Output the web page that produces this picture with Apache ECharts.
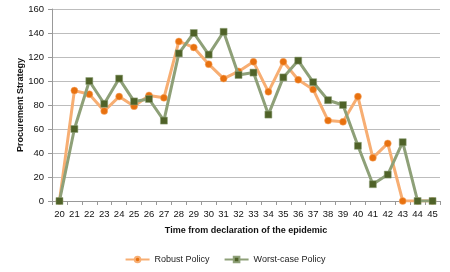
<!DOCTYPE html>
<html><head><meta charset="utf-8">
<script src="https://cdn.jsdelivr.net/npm/echarts@6/dist/echarts.min.js"></script>
<style>html,body{margin:0;padding:0;background:#fff}#c{width:450px;height:272px}</style>
</head><body><div id="c"></div>
<script>
const categories = ['20','21','22','23','24','25','26','27','28','29','30','31','32','33','34','35','36','37','38','39','40','41','42','43','44','45'];
const robustPolicy = [0, 92, 89, 75, 87, 79, 88, 86, 133, 128, 114, 102, 108, 116, 91, 116, 101, 93, 67, 66, 87, 36, 48, 0, 0, 0];
const worstCasePolicy = [0, 60, 100, 81, 102, 83, 85, 67, 123, 140, 122, 141, 105, 107, 72, 103, 117, 99, 84, 80, 46, 14, 22, 49, 0, 0];
const yTicks = {min: 0, max: 160, interval: 20};

const chart = echarts.init(document.getElementById('c'), null, {renderer: 'canvas'});
const font = 'Liberation Sans, Arial, sans-serif';
chart.setOption({
  animation: false,
  grid: {left: 52, right: 10, top: 9, bottom: 71, containLabel: false},
  legend: {
    bottom: 3, left: 'center', itemGap: 14, itemWidth: 24, itemHeight: 7,
    textStyle: {fontFamily: font, fontSize: 9, color: '#222'},
    data: ['Robust Policy', 'Worst-case Policy']
  },
  xAxis: {
    type: 'category', data: categories, boundaryGap: true,
    name: 'Time from declaration of the epidemic', nameLocation: 'middle', nameGap: 25,
    nameMoveOverlap: false,
    nameTextStyle: {fontFamily: font, fontSize: 9, fontWeight: 'bold', color: '#111'},
    axisLine: {lineStyle: {color: '#999', width: 1}},
    axisTick: {show: true, interval: 0, alignWithLabel: false, length: 4, lineStyle: {color: '#999'}},
    axisLabel: {interval: 0, fontFamily: font, fontSize: 9.5, color: '#111', margin: 8},
    splitLine: {show: false}
  },
  yAxis: {
    type: 'value', min: yTicks.min, max: yTicks.max, interval: yTicks.interval,
    name: 'Procurement Strategy', nameLocation: 'middle', nameGap: 27, nameRotate: 90,
    nameMoveOverlap: false,
    nameTextStyle: {fontFamily: font, fontSize: 9, fontWeight: 'bold', color: '#111'},
    axisLine: {show: true, lineStyle: {color: '#999', width: 1}},
    axisTick: {show: true, length: 4, lineStyle: {color: '#999'}},
    axisLabel: {fontFamily: font, fontSize: 9.5, color: '#111', margin: 8},
    splitLine: {show: true, lineStyle: {color: '#BDBDBD', width: 1}}
  },
  series: [
    {
      name: 'Robust Policy', type: 'line', data: robustPolicy,
      symbol: 'circle', symbolSize: 7,
      lineStyle: {color: '#F7AE73', width: 3},
      itemStyle: {color: '#E8710F', borderColor: '#F7AE73', borderWidth: 0.5},
      z: 2
    },
    {
      name: 'Worst-case Policy', type: 'line', data: worstCasePolicy,
      symbol: 'rect', symbolSize: 7,
      lineStyle: {color: '#8EA078', width: 3},
      itemStyle: {color: '#4F6228', borderColor: '#8EA078', borderWidth: 0.5},
      z: 3
    }
  ]
});
</script></body></html>
